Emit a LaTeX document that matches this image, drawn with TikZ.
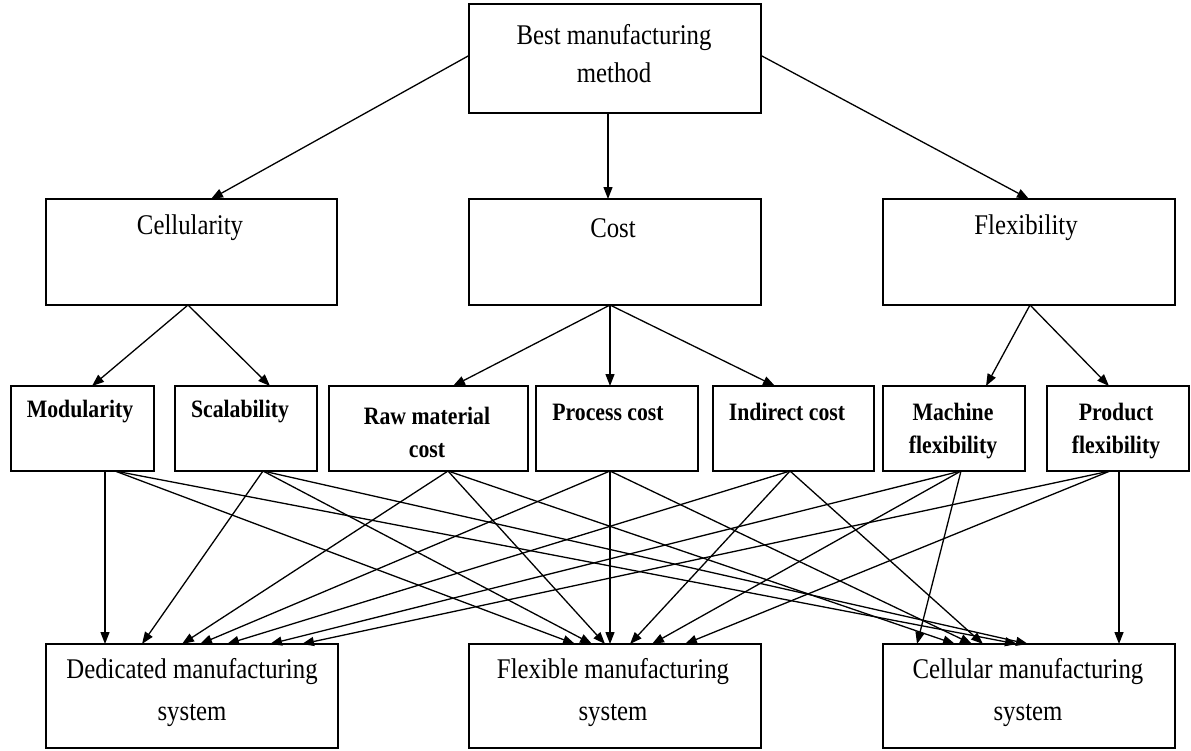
\documentclass[tikz,border=0pt]{standalone}
\usepackage{fontspec}
\setmainfont{Liberation Serif}[FakeStretch=0.87]
\usetikzlibrary{arrows.meta}
\begin{document}
\begin{tikzpicture}[x=1pt,y=-1pt,
  box/.style={draw,line width=1.6pt,inner sep=0pt,outer sep=0pt,anchor=north west},
  lbl/.style={font=\fontsize{28.5}{38}\selectfont,align=center,inner sep=0pt},
  sub/.style={font=\bfseries\fontsize{25}{33}\selectfont,align=center,inner sep=0pt},
  sys/.style={font=\fontsize{28.5}{42}\selectfont,align=center,inner sep=0pt},
  link/.style={line width=1.3pt,-{Triangle[length=12pt,width=9pt]}}
]
\useasboundingbox (0,0) rectangle (1191,750);

% goal
\node[box,minimum width=292pt,minimum height=109pt] (top) at (469,4) {};
% criteria
\node[box,minimum width=291pt,minimum height=106pt] (cell) at (46,199) {};
\node[box,minimum width=292pt,minimum height=106pt] (cost) at (469,199) {};
\node[box,minimum width=292pt,minimum height=106pt] (flex) at (883,199) {};
% sub-criteria
\node[box,minimum width=143pt,minimum height=85pt] (mod)  at (11,386) {};
\node[box,minimum width=142pt,minimum height=85pt] (scal) at (175,386) {};
\node[box,minimum width=199pt,minimum height=85pt] (raw)  at (329,386) {};
\node[box,minimum width=162pt,minimum height=85pt] (proc) at (536,386) {};
\node[box,minimum width=161pt,minimum height=85pt] (ind)  at (713,386) {};
\node[box,minimum width=142pt,minimum height=85pt] (mach) at (883,386) {};
\node[box,minimum width=142pt,minimum height=85pt] (prod) at (1047,386) {};
% alternatives
\node[box,minimum width=292pt,minimum height=104pt] (ded) at (46,644) {};
\node[box,minimum width=292pt,minimum height=104pt] (fms) at (469,644) {};
\node[box,minimum width=292pt,minimum height=104pt] (cms) at (883,644) {};

% labels
\node[lbl] (t-top)  at (614,54)  {Best manufacturing\\method};
\node[lbl] (t-cell) at (190,228) {Cellularity};
\node[lbl] (t-cost) at (613,228) {Cost};
\node[lbl] (t-flex) at (1026,228) {Flexibility};
\node[sub] (t-mod)  at (80,412)  {Modularity};
\node[sub] (t-scal) at (240,412) {Scalability};
\node[sub] (t-raw)  at (427,432) {Raw material\\cost};
\node[sub] (t-proc) at (608,412) {Process cost};
\node[sub] (t-ind)  at (787,412) {Indirect cost};
\node[sub] (t-mach) at (953,431) {Machine\\flexibility};
\node[sub] (t-prod) at (1116,431) {Product\\flexibility};
\node[sys] (t-ded)  at (192,693) {Dedicated manufacturing\\system};
\node[sys] (t-fms)  at (613,693) {Flexible manufacturing\\system};
\node[sys] (t-cms)  at (1028,693) {Cellular manufacturing\\system};

% goal to criteria
\draw[link] ([yshift=3pt]top.west) -- ([xshift=165pt]cell.north west);
\draw[link] ([xshift=139pt]top.south west) -- ([xshift=139pt]cost.north west);
\draw[link] ([yshift=3pt]top.east) -- ([xshift=146pt]flex.north west);

% criteria to sub-criteria
\draw[link] ([xshift=142pt]cell.south west) -- ([xshift=81pt]mod.north west);
\draw[link] ([xshift=142pt]cell.south west) -- ([xshift=95pt]scal.north west);
\draw[link] ([xshift=141pt]cost.south west) -- ([xshift=124pt]raw.north west);
\draw[link] ([xshift=141pt]cost.south west) -- ([xshift=74pt]proc.north west);
\draw[link] ([xshift=141pt]cost.south west) -- ([xshift=62pt]ind.north west);
\draw[link] ([xshift=147pt]flex.south west) -- ([xshift=103pt]mach.north west);
\draw[link] ([xshift=147pt]flex.south west) -- ([xshift=62pt]prod.north west);

% sub-criteria to alternatives
\draw[link] ([xshift=94pt]mod.south west)  -- ([xshift=59pt]ded.north west);
\draw[link] ([xshift=104pt]mod.south west) -- ([xshift=106pt]fms.north west);
\draw[link] ([xshift=104pt]mod.south west) -- ([xshift=134pt]cms.north west);

\draw[link] ([xshift=88pt]scal.south west) -- ([xshift=96pt]ded.north west);
\draw[link] ([xshift=88pt]scal.south west) -- ([xshift=123pt]fms.north west);
\draw[link] ([xshift=88pt]scal.south west) -- ([xshift=145pt]cms.north west);

\draw[link] ([xshift=119pt]raw.south west) -- ([xshift=136pt]ded.north west);
\draw[link] ([xshift=119pt]raw.south west) -- ([xshift=136pt]fms.north west);
\draw[link] ([xshift=119pt]raw.south west) -- ([xshift=72pt]cms.north west);

\draw[link] ([xshift=74pt]proc.south west) -- ([xshift=154pt]ded.north west);
\draw[link] ([xshift=74pt]proc.south west) -- ([xshift=141pt]fms.north west);
\draw[link] ([xshift=74pt]proc.south west) -- ([xshift=89pt]cms.north west);

\draw[link] ([xshift=77pt]ind.south west) -- ([xshift=181pt]ded.north west);
\draw[link] ([xshift=77pt]ind.south west) -- ([xshift=161pt]fms.north west);
\draw[link] ([xshift=77pt]ind.south west) -- ([xshift=100pt]cms.north west);

\draw[link] ([xshift=78pt]mach.south west) -- ([xshift=224pt]ded.north west);
\draw[link] ([xshift=78pt]mach.south west) -- ([xshift=183pt]fms.north west);
\draw[link] ([xshift=78pt]mach.south west) -- ([xshift=34pt]cms.north west);

\draw[link] ([xshift=63pt]prod.south west) -- ([xshift=256pt]ded.north west);
\draw[link] ([xshift=63pt]prod.south west) -- ([xshift=216pt]fms.north west);
\draw[link] ([xshift=72pt]prod.south west) -- ([xshift=236pt]cms.north west);
\end{tikzpicture}
\end{document}
